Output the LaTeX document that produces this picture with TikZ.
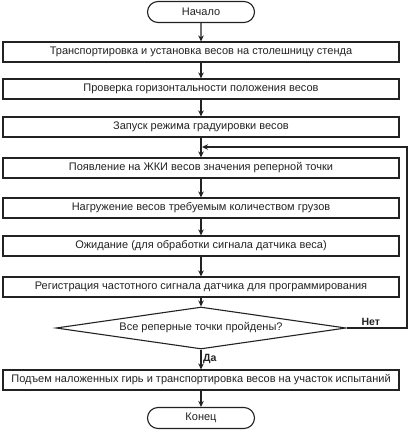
\documentclass[tikz,border=0pt]{standalone}
\usepackage{fontspec}
\setmainfont{Liberation Sans}
\usetikzlibrary{shapes.geometric,shapes.misc,arrows.meta}
\definecolor{ink}{HTML}{222222}
\begin{document}
\begin{tikzpicture}[x=1pt,y=-1pt,
  every node/.style={font=\fontsize{11}{13}\selectfont, text=ink},
  proc/.style={draw=ink, line width=1.1pt, rectangle, minimum width=396pt, minimum height=20pt, inner sep=0pt},
  term/.style={draw=ink, line width=1.1pt, rounded rectangle, minimum width=107pt, minimum height=21pt, inner sep=0pt},
  decide/.style={draw=ink, line width=1.1pt, diamond, aspect=7, minimum width=290pt, minimum height=42pt, inner sep=0pt},
  flow/.style={draw=ink, line width=1.1pt, -{Stealth[length=6pt,width=5.5pt]}},
  lbl/.style={font=\fontsize{10.5}{12}\selectfont\bfseries, inner sep=1.5pt}
]
\useasboundingbox (0,0) rectangle (409,432);
\node[term] (start) at (201,12) {Начало};
\node[proc] (b1) at (201,52) {Транспортировка и установка  весов на столешницу стенда};
\node[proc] (b2) at (201,89) {Проверка горизонтальности положения весов};
\node[proc] (b3) at (201,127) {Запуск режима градуировки весов};
\node[proc] (b4) at (201,168) {Появление на ЖКИ весов значения реперной точки};
\node[proc] (b5) at (201,208) {Нагружение весов требуемым количеством грузов};
\node[proc] (b6) at (201,246) {Ожидание (для обработки  сигнала датчика веса)};
\node[proc] (b7) at (201,287) {Регистрация частотного сигнала датчика для программирования};
\node[decide] (d) at (201,328) {Все реперные точки пройдены?};
\node[proc] (b8) at (201,380) {Подъем наложенных гирь и транспортировка весов на участок испытаний};
\node[term] (end) at (201,418) {Конец};
\coordinate (fbr) at (407,328);
\coordinate (fbt) at (407,147);
\coordinate (fbin) at (202,147);
\draw[flow] (start) -- (b1);
\draw[flow] (b1) -- (b2);
\draw[flow] (b2) -- (b3);
\draw[flow] (b3) -- (b4);
\draw[flow] (b4) -- (b5);
\draw[flow] (b5) -- (b6);
\draw[flow] (b6) -- (b7);
\draw[flow] (b7) -- (d);
\draw[flow] (d) -- node[lbl, anchor=west, pos=0.45] {Да} (b8);
\draw[flow] (b8) -- (end);
\draw[flow] (d.east) -- node[lbl, anchor=south, pos=0.4] {Нет} (fbr) -- (fbt) -- (fbin);
\end{tikzpicture}
\end{document}
